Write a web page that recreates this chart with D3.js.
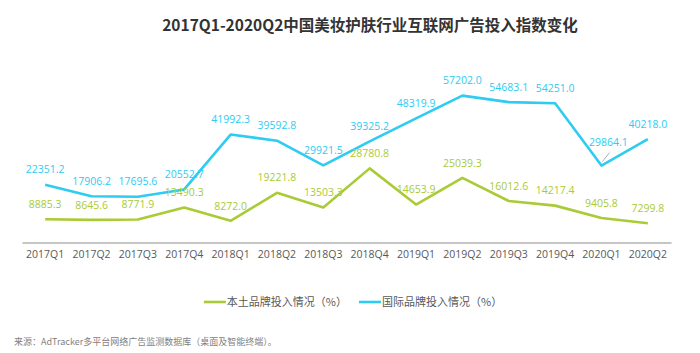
<!DOCTYPE html>
<html lang="zh">
<head>
  <meta charset="UTF-8">
  <title>美妆护肤广告投入指数</title>
  <script src="https://d3js.org/d3.v7.min.js"></script>
  <style>
    * { margin: 0; padding: 0; box-sizing: border-box; }
    body { background: #fff; font-family: "Open Sans", "Noto Sans CJK SC", sans-serif; }
  </style>
</head>
<body>
  <div id="chart"></div>
  <script>
    const quarters = ["2017Q1","2017Q2","2017Q3","2017Q4","2018Q1","2018Q2","2018Q3","2018Q4",
                      "2019Q1","2019Q2","2019Q3","2019Q4","2020Q1","2020Q2"];
    const localBrand = [8885.3, 8645.6, 8771.9, 13490.3, 8272.0, 19221.8, 13503.3, 28780.8,
                        14653.9, 25039.3, 16012.6, 14217.4, 9405.8, 7299.8];
    const intlBrand = [22351.2, 17906.2, 17695.6, 20552.7, 41992.3, 39592.8, 29921.5, 39325.2,
                       48319.9, 57202.0, 54683.1, 54251.0, 29864.1, 40218.0];
    const seriesNames = ["本土品牌投入情况（%）", "国际品牌投入情况（%）"];

    const W = 700, H = 353;
    const cjk = "'Noto Sans CJK SC', sans-serif";
    const green = "#a9cb35", blue = "#2ecbf2";

    const svg = d3.select("#chart").append("svg")
      .attr("width", W).attr("height", H);

    const x = d3.scaleBand().domain(quarters).range([22, 671]);
    const y = d3.scaleLinear().domain([0, 60000]).range([242, 88.5]);
    const cx = d => x(d) + x.bandwidth() / 2;

    svg.append("text")
      .attr("x", 370).attr("y", 31)
      .attr("text-anchor", "middle")
      .style("font-family", cjk)
      .style("font-size", "15.5px")
      .style("font-weight", "bold")
      .style("fill", "#333")
      .text("2017Q1-2020Q2中国美妆护肤行业互联网广告投入指数变化");

    // x axis
    const xa = svg.append("g")
      .attr("transform", "translate(0,242.5)")
      .call(d3.axisBottom(x).tickSize(0).tickSizeOuter(0).tickPadding(8));
    xa.select(".domain").attr("stroke", "#8c8c8c").attr("stroke-width", 1.2);
    xa.selectAll("text")
      .style("font-family", "'Open Sans', sans-serif")
      .style("font-size", "10.5px")
      .style("fill", "#595959");

    const line = d3.line().x((d, i) => cx(quarters[i])).y(d => y(d));

    const series = [
      { name: seriesNames[0], values: localBrand, color: green },
      { name: seriesNames[1], values: intlBrand, color: blue }
    ];

    series.forEach(s => {
      svg.append("path")
        .datum(s.values)
        .attr("d", line)
        .attr("fill", "none")
        .attr("stroke", s.color)
        .attr("stroke-width", 2.6)
        .attr("stroke-linejoin", "round");
    });

    series.forEach((s, si) => {
      svg.selectAll(".lbl" + si)
        .data(s.values)
        .enter().append("text")
        .attr("x", (d, i) => cx(quarters[i]) + (si === 1 && i === 12 ? 7 : 0))
        .attr("y", (d, i) => y(d) - (si === 1 && i === 12 ? 23 : 15))
        .attr("dy", "0.35em")
        .attr("text-anchor", "middle")
        .style("font-family", "'Open Sans', sans-serif")
        .style("font-size", "10.5px")
        .style("fill", s.color)
        .text(d => d3.format(".1f")(d));
    });

    // small leader line for the shifted label
    const lx = cx(quarters[12]);
    svg.append("line")
      .attr("x1", lx + 1).attr("y1", y(intlBrand[12]) - 4)
      .attr("x2", lx + 8).attr("y2", y(intlBrand[12]) - 13)
      .attr("stroke", "#999").attr("stroke-width", 0.8);

    // legend, centred under the plot
    const legend = svg.append("g");
    let lxPos = 0;
    series.forEach((s, i) => {
      const g = legend.append("g").attr("transform", `translate(${lxPos},302)`);
      g.append("line").attr("x1", 0).attr("x2", 22).attr("y1", 0).attr("y2", 0)
        .attr("stroke", s.color).attr("stroke-width", 2.6);
      const t = g.append("text").attr("x", 23).attr("y", 0).attr("dy", "0.35em")
        .style("font-family", cjk).style("font-size", "11px").style("fill", "#595959")
        .text(s.name);
      lxPos += 23 + t.node().getComputedTextLength() + 12;
    });
    const lw = legend.node().getBBox().width;
    legend.attr("transform", `translate(${353 - lw / 2},0)`);

    svg.append("text")
      .attr("x", 14).attr("y", 342).attr("dy", "0.35em")
      .style("font-family", cjk).style("font-size", "9px").style("fill", "#7f7f7f")
      .text("来源：AdTracker多平台网络广告监测数据库（桌面及智能终端）。");
  </script>
</body>
</html>
